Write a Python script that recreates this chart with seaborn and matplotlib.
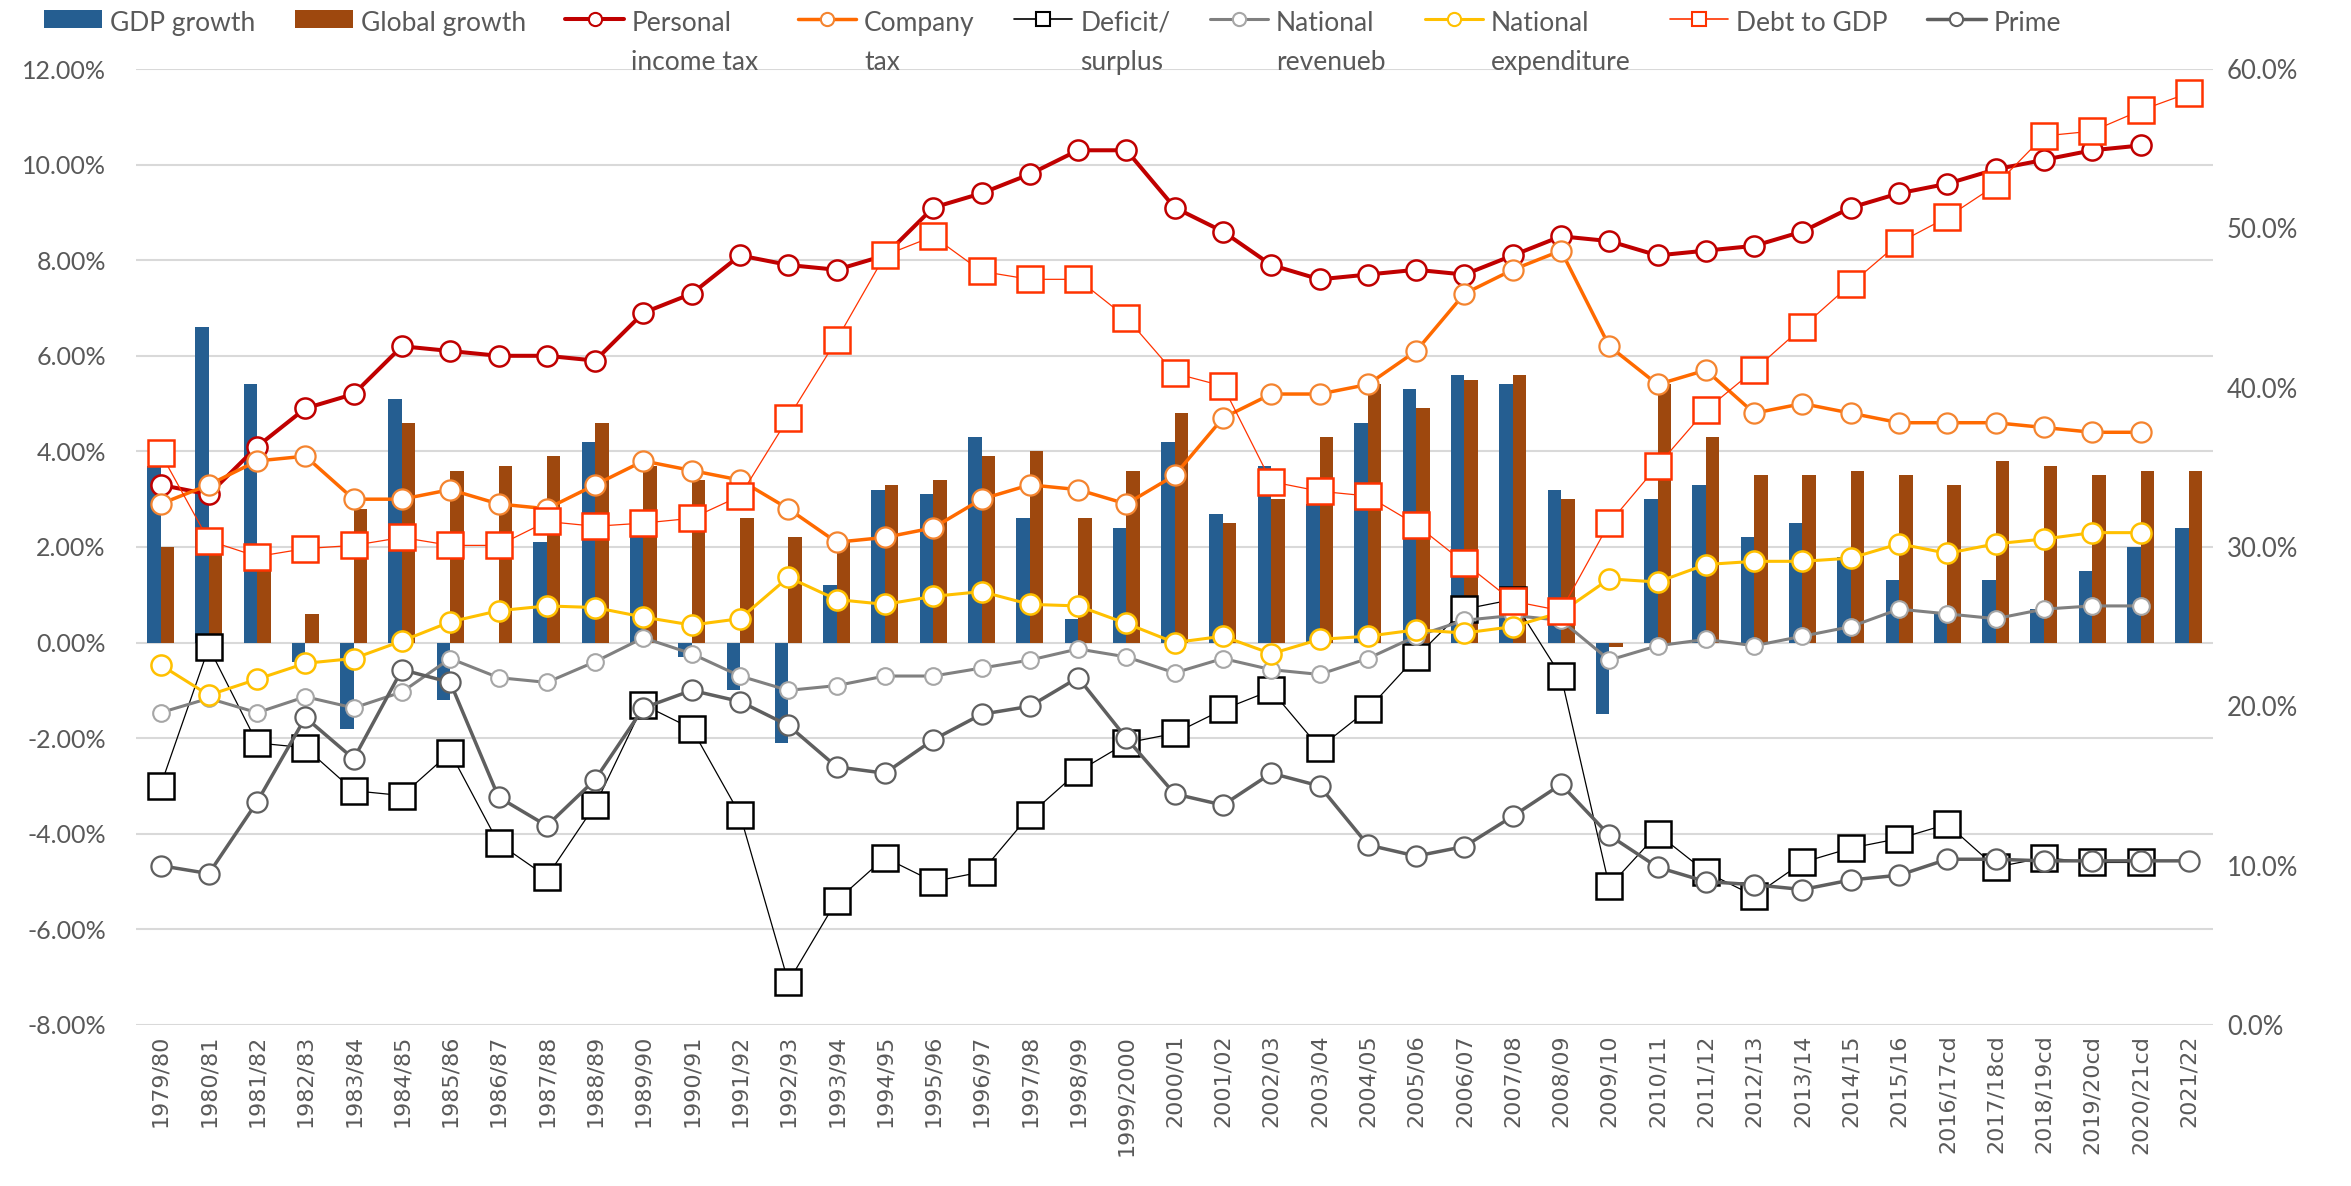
"""
Fiscal indicators 1979/80 - 2021/22: growth bars plus tax, deficit, debt and prime lines.
Left axis: growth, tax and deficit (% of GDP). Right axis: revenue, expenditure, debt, prime.
"""
import numpy as np
import pandas as pd
import matplotlib
matplotlib.use("Agg")
import matplotlib.pyplot as plt
import seaborn as sns
from matplotlib.lines import Line2D
from matplotlib.patches import Patch
from matplotlib.legend_handler import HandlerLine2D, HandlerPatch
from matplotlib.transforms import Affine2D

# ---------------------------------------------------------------- data
years = ['1979/80', '1980/81', '1981/82', '1982/83', '1983/84', '1984/85', '1985/86',
         '1986/87', '1987/88', '1988/89', '1989/90', '1990/91', '1991/92', '1992/93',
         '1993/94', '1994/95', '1995/96', '1996/97', '1997/98', '1998/99', '1999/2000',
         '2000/01', '2001/02', '2002/03', '2003/04', '2004/05', '2005/06', '2006/07',
         '2007/08', '2008/09', '2009/10', '2010/11', '2011/12', '2012/13', '2013/14',
         '2014/15', '2015/16', '2016/17cd', '2017/18cd', '2018/19cd', '2019/20cd',
         '2020/21cd', '2021/22']

# left axis (%)
gdp_growth = [3.7, 6.6, 5.4, -0.4, -1.8, 5.1, -1.2, 0.0, 2.1, 4.2, 2.4, -0.3, -1.0, -2.1,
              1.2, 3.2, 3.1, 4.3, 2.6, 0.5, 2.4, 4.2, 2.7, 3.7, 2.9, 4.6, 5.3, 5.6, 5.4,
              3.2, -1.5, 3.0, 3.3, 2.2, 2.5, 1.8, 1.3, 0.6, 1.3, 0.7, 1.5, 2.0, 2.4]
global_growth = [2.0, 1.9, 1.8, 0.6, 2.8, 4.6, 3.6, 3.7, 3.9, 4.6, 3.7, 3.4, 2.6, 2.2,
                 2.1, 3.3, 3.4, 3.9, 4.0, 2.6, 3.6, 4.8, 2.5, 3.0, 4.3, 5.4, 4.9, 5.5, 5.6,
                 3.0, -0.1, 5.4, 4.3, 3.5, 3.5, 3.6, 3.5, 3.3, 3.8, 3.7, 3.5, 3.6, 3.6]
personal_income_tax = [3.3, 3.1, 4.1, 4.9, 5.2, 6.2, 6.1, 6.0, 6.0, 5.9, 6.9, 7.3, 8.1, 7.9,
                       7.8, 8.1, 9.1, 9.4, 9.8, 10.3, 10.3, 9.1, 8.6, 7.9, 7.6, 7.7, 7.8, 7.7,
                       8.1, 8.5, 8.4, 8.1, 8.2, 8.3, 8.6, 9.1, 9.4, 9.6, 9.9, 10.1, 10.3, 10.4,
                       np.nan]
company_tax = [2.9, 3.3, 3.8, 3.9, 3.0, 3.0, 3.2, 2.9, 2.8, 3.3, 3.8, 3.6, 3.4, 2.8, 2.1,
               2.2, 2.4, 3.0, 3.3, 3.2, 2.9, 3.5, 4.7, 5.2, 5.2, 5.4, 6.1, 7.3, 7.8, 8.2,
               6.2, 5.4, 5.7, 4.8, 5.0, 4.8, 4.6, 4.6, 4.6, 4.5, 4.4, 4.4, np.nan]
deficit_surplus = [-3.0, -0.1, -2.1, -2.2, -3.1, -3.2, -2.3, -4.2, -4.9, -3.4, -1.3, -1.8,
                   -3.6, -7.1, -5.4, -4.5, -5.0, -4.8, -3.6, -2.7, -2.1, -1.9, -1.4, -1.0,
                   -2.2, -1.4, -0.3, 0.7, 0.9, -0.7, -5.1, -4.0, -4.8, -5.3, -4.6, -4.3,
                   -4.1, -3.8, -4.7, -4.5, -4.6, -4.6, np.nan]

# right axis (%)
national_revenue = [19.6, 20.5, 19.6, 20.6, 19.9, 20.9, 23.0, 21.8, 21.5, 22.8, 24.3, 23.3,
                    21.9, 21.0, 21.3, 21.9, 21.9, 22.4, 22.9, 23.6, 23.1, 22.1, 23.0, 22.3,
                    22.0, 23.0, 24.4, 25.4, 25.7, 25.4, 22.9, 23.8, 24.2, 23.8, 24.4, 25.0,
                    26.1, 25.8, 25.5, 26.1, 26.3, 26.3, np.nan]
national_expenditure = [22.6, 20.7, 21.7, 22.7, 23.0, 24.1, 25.3, 26.0, 26.3, 26.2, 25.6,
                        25.1, 25.5, 28.1, 26.7, 26.4, 26.9, 27.2, 26.4, 26.3, 25.2, 24.0,
                        24.4, 23.3, 24.2, 24.4, 24.8, 24.6, 25.0, 25.9, 28.0, 27.8, 28.9,
                        29.1, 29.1, 29.3, 30.2, 29.6, 30.2, 30.5, 30.9, 30.9, np.nan]
debt_to_gdp = [35.9, 30.4, 29.4, 29.9, 30.1, 30.6, 30.1, 30.1, 31.6, 31.3, 31.5, 31.8, 33.2,
               38.1, 43.0, 48.3, 49.5, 47.3, 46.8, 46.8, 44.4, 40.9, 40.1, 34.1, 33.5, 33.2,
               31.4, 29.0, 26.6, 26.0, 31.5, 35.1, 38.6, 41.1, 43.8, 46.5, 49.1, 50.7, 52.7,
               55.8, 56.1, 57.4, 58.5]
prime = [10.0, 9.5, 14.0, 19.3, 16.7, 22.3, 21.5, 14.3, 12.5, 15.4, 19.9, 21.0, 20.3, 18.8,
         16.2, 15.8, 17.9, 19.5, 20.0, 21.8, 18.0, 14.5, 13.8, 15.8, 15.0, 11.3, 10.6, 11.2,
         13.1, 15.1, 11.9, 9.9, 9.0, 8.8, 8.5, 9.1, 9.4, 10.4, 10.4, 10.3, 10.3, 10.3, 10.3]

TEXT = '#595959'
BAR_COLORS = ['#255E91', '#9E480E']

# (label, values, colour, line width, marker, marker size, marker edge colour, edge width)
left_lines = [
    ('Personal\nincome tax', personal_income_tax, '#C00000', 2.9, 'o', 14.5, '#C00000', 1.8),
    ('Company\ntax', company_tax, '#FF6A00', 2.5, 'o', 14.5, '#F4842F', 1.6),
    ('Deficit/\nsurplus', deficit_surplus, '#000000', 0.9, 's', 19, '#000000', 1.8),
]
right_lines = [
    ('National\nrevenueb', national_revenue, '#808080', 2.2, 'o', 12, '#A6A6A6', 1.5),
    ('National\nexpenditure', national_expenditure, '#FFC000', 2.2, 'o', 14.5, '#FFC000', 1.8),
    ('Debt to GDP\n', debt_to_gdp, '#FF3300', 0.9, 's', 19, '#FF3300', 1.8),
    ('Prime\n', prime, '#5F5F5F', 2.5, 'o', 14.5, '#5F5F5F', 1.6),
]

sns.set_theme(style='white')
plt.rcParams['font.family'] = ['Lato', 'DejaVu Sans']

fig, ax = plt.subplots(figsize=(23.51, 11.86), dpi=100)
fig.subplots_adjust(left=0.058, right=0.9413, top=0.9418, bottom=0.1358)

n = len(years)
x = np.arange(n)

# bars
bars = pd.DataFrame({
    'year': years * 2,
    'value': gdp_growth + global_growth,
    'series': ['GDP growth'] * n + ['Global growth'] * n,
})
sns.barplot(data=bars, x='year', y='value', hue='series', order=years,
            hue_order=['GDP growth', 'Global growth'], palette=BAR_COLORS,
            saturation=1, width=0.56, gap=0, errorbar=None, linewidth=0,
            legend=False, ax=ax)

# lines on the left axis
for label, vals, col, lw, mk, ms, mec, mew in left_lines:
    sns.lineplot(x=x, y=vals, ax=ax, color=col, linewidth=lw, marker=mk, markersize=ms,
                 markerfacecolor='white', markeredgecolor=mec, markeredgewidth=mew,
                 errorbar=None, legend=False)

# lines on the right axis
ax2 = ax.twinx()
for label, vals, col, lw, mk, ms, mec, mew in right_lines:
    sns.lineplot(x=x, y=vals, ax=ax2, color=col, linewidth=lw, marker=mk, markersize=ms,
                 markerfacecolor='white', markeredgecolor=mec, markeredgewidth=mew,
                 errorbar=None, legend=False)

# axes
ax.set_ylim(-8, 12)
ax2.set_ylim(0, 60)
ax.set_xlim(-0.5, n - 0.5)
left_ticks = np.arange(-8, 13, 2)
ax.set_yticks(left_ticks)
ax.set_yticklabels([f'{v:.2f}%' for v in left_ticks])
right_ticks = np.arange(0, 61, 10)
ax2.set_yticks(right_ticks)
ax2.set_yticklabels([f'{v:.1f}%' for v in right_ticks])
ax.set_xticks(x)
ax.set_xticklabels(years, rotation=90, fontsize=16, color=TEXT, family='DejaVu Sans')

ax.tick_params(axis='y', length=0, pad=22, labelsize=18, labelcolor=TEXT)
ax2.tick_params(axis='y', length=0, pad=10, labelsize=18.5, labelcolor=TEXT)
ax.tick_params(axis='x', length=0, pad=7)
for a in (ax, ax2):
    a.set_xlabel('')
    a.set_ylabel('')
    for s in a.spines.values():
        s.set_visible(False)
ax.yaxis.grid(True, color='#D9D9D9', linewidth=1.5)
ax.set_axisbelow(True)
ax2.grid(False)

# legend: handles sit on the first text line
LEG_SHIFT = 18


class RaisedLine(HandlerLine2D):
    def create_artists(self, legend, orig_handle, xdescent, ydescent, width, height,
                       fontsize, trans):
        return super().create_artists(legend, orig_handle, xdescent, ydescent, width,
                                      height, fontsize,
                                      Affine2D().translate(0, LEG_SHIFT) + trans)


class RaisedPatch(HandlerPatch):
    def create_artists(self, legend, orig_handle, xdescent, ydescent, width, height,
                       fontsize, trans):
        return super().create_artists(legend, orig_handle, xdescent, ydescent, width,
                                      height, fontsize,
                                      Affine2D().translate(0, LEG_SHIFT) + trans)


handles = [Patch(facecolor=c, edgecolor='none') for c in BAR_COLORS]
labels = ['GDP growth\n', 'Global growth\n']
for label, vals, col, lw, mk, ms, mec, mew in left_lines + right_lines:
    handles.append(Line2D([], [], color=col, linewidth=max(lw, 1.2), marker=mk,
                          markersize=9.5, markerfacecolor='white', markeredgecolor=mec,
                          markeredgewidth=1.5))
    labels.append(label)

leg = fig.legend(handles, labels, loc='upper left', bbox_to_anchor=(44 / 2351, 1 - 11 / 1186),
                 ncol=9, frameon=False, fontsize=19, handlelength=2.2, handletextpad=0.3,
                 columnspacing=1.5, borderpad=0, borderaxespad=0,
                 handler_map={Line2D: RaisedLine(), Patch: RaisedPatch()})
for t in leg.get_texts():
    t.set_color(TEXT)
    t.set_linespacing(1.7)

plt.savefig('out.png', dpi=100)
plt.close()
